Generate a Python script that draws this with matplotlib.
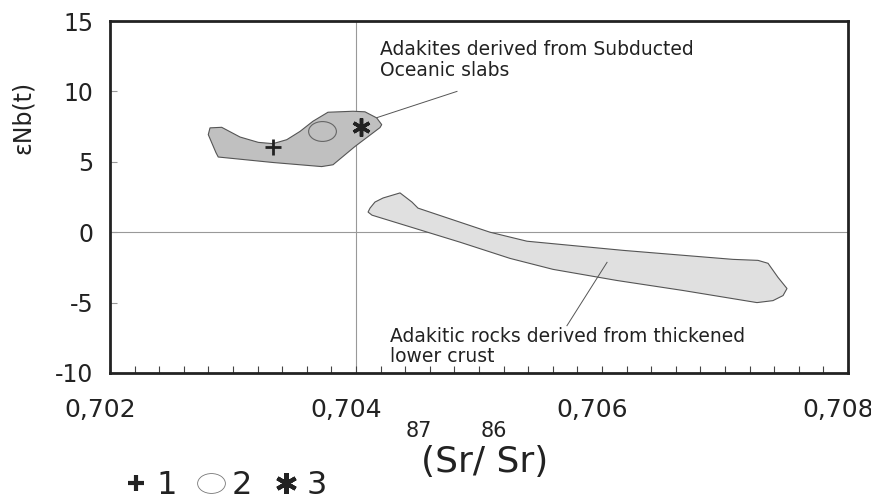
import matplotlib
matplotlib.use("Agg")
import matplotlib.pyplot as plt
import numpy as np
from matplotlib.lines import Line2D
from matplotlib.path import Path
from matplotlib.ticker import MultipleLocator
from matplotlib.transforms import ScaledTranslation

# field of adakites from subducted oceanic slabs (Sr ratio, eNd)
slab_x = [0.702813, 0.702908, 0.703057, 0.703206, 0.703325, 0.703437, 0.703545,
          0.703650, 0.703772, 0.703976, 0.704073, 0.704168, 0.704209, 0.704195,
          0.703992, 0.703813, 0.703721, 0.703325, 0.702880, 0.702862, 0.702799]
slab_y = [7.41, 7.45, 6.76, 6.38, 6.29, 6.57, 7.16,
          7.88, 8.52, 8.59, 8.55, 8.12, 7.64, 7.43,
          6.09, 4.79, 4.66, 4.95, 5.34, 5.64, 6.93]

# field of adakitic rocks from thickened lower crust
crust_x = [0.704114, 0.704154, 0.704220, 0.704358, 0.704455, 0.704504, 0.705089,
           0.705390, 0.706171, 0.706659, 0.707065, 0.707268, 0.707350, 0.707431,
           0.707504, 0.707472, 0.707390, 0.707260, 0.706659, 0.706122, 0.705602,
           0.705252, 0.704846, 0.704130, 0.704098]
crust_y = [1.71, 2.14, 2.43, 2.79, 2.14, 1.71, 0.0,
           -0.64, -1.29, -1.64, -1.93, -2.0, -2.21, -3.21,
           -4.0, -4.5, -4.86, -5.0, -4.14, -3.43, -2.64,
           -1.86, -0.71, 1.21, 1.43]

# samples 1, 2, 3
sample_x = [0.703325, 0.703724, 0.704041]
sample_y = [6.07, 7.21, 7.5]
sample_names = ["1", "2", "3"]

xticks = [0.702, 0.704, 0.706, 0.708]
xtick_labels = ["0,702", "0,704", "0,706", "0,708"]
yticks = [-10, -5, 0, 5, 10, 15]

slab_label = "Adakites derived from Subducted\nOceanic slabs"
crust_label = "Adakitic rocks derived from thickened\nlower crust"
slab_pointer = ([0.704171, 0.704821], [8.14, 10.0])
crust_pointer = ([0.705715, 0.706041], [-6.64, -2.14])


def main():
    plt.rcParams['font.family'] = ['DejaVu Sans']
    plt.rcParams['axes.unicode_minus'] = False

    fig = plt.figure(figsize=(8.71, 5.04), dpi=100)
    ax = fig.add_axes([110 / 871, 131 / 504, 738 / 871, 352 / 504])

    ax.axhline(0, color='#999999', lw=0.8, zorder=1)
    ax.axvline(0.704, color='#999999', lw=0.8, zorder=1)

    ax.fill(slab_x, slab_y, facecolor='#c0c0c0', edgecolor='#555555', lw=0.8, zorder=2)
    ax.fill(crust_x, crust_y, facecolor='#e0e0e0', edgecolor='#555555', lw=0.8, zorder=2)

    # squashed circle for sample 2
    circ = Path.unit_circle()
    ellipse = Path(circ.vertices * [1.4, 1.0], circ.codes)

    ax.plot(sample_x[0], sample_y[0], marker='+', ms=12, mew=2, color='#222222',
            ls='none', zorder=3)
    ax.plot(sample_x[1], sample_y[1], marker=ellipse, ms=20, mew=0.8, mfc='none',
            mec='#666666', ls='none', zorder=3)
    ax.plot(sample_x[2], sample_y[2], marker=(6, 2, 0), ms=13, mew=2.5, color='#222222',
            ls='none', zorder=3)

    ax.plot(*slab_pointer, color='#555555', lw=0.7)
    ax.plot(*crust_pointer, color='#555555', lw=0.7)
    ax.text(0.704195, 13.65, slab_label, fontsize=13.5, va='top', ha='left',
            color='#222222', linespacing=1.1)
    ax.text(0.704276, -6.7, crust_label, fontsize=13.5, va='top', ha='left',
            color='#222222', linespacing=1.1)

    ax.set_xlim(0.702, 0.708)
    ax.set_ylim(-10, 15)
    ax.set_xticks(xticks)
    ax.set_xticklabels(xtick_labels)
    ax.xaxis.set_minor_locator(MultipleLocator(0.0002))
    ax.set_yticks(yticks)
    ax.tick_params(axis='x', which='both', direction='in', length=5, width=0.8,
                   color='#444444', labelsize=18, pad=18, labelcolor='#222222')
    ax.tick_params(axis='y', direction='in', length=5, width=0.8, color='#999999',
                   labelsize=17, pad=12, labelcolor='#222222')
    for lab in ax.get_xticklabels():
        lab.set_transform(lab.get_transform() + ScaledTranslation(-0.1, 0, fig.dpi_scale_trans))
    for side in ['left', 'right', 'top', 'bottom']:
        ax.spines[side].set_linewidth(2)
        ax.spines[side].set_color('#222222')

    ax.set_ylabel("εNb(t)", fontsize=17, va='center', color='#222222')
    ax.yaxis.set_label_coords(-0.118, 0.725)

    # x axis title with the isotope numbers on top
    fig.text(485 / 871, 1 - 472 / 504, "(Sr/ Sr)", fontsize=26, ha='center',
             va='baseline', color='#222222')
    fig.text(419 / 871, 1 - 437 / 504, "87", fontsize=15, ha='center', va='baseline',
             color='#222222')
    fig.text(494 / 871, 1 - 437 / 504, "86", fontsize=15, ha='center', va='baseline',
             color='#222222')

    handles = [
        Line2D([], [], marker='+', ms=12, mew=3, color='#222222', ls='none'),
        Line2D([], [], marker=ellipse, ms=20, mew=0.6, mfc='none', mec='#777777', ls='none'),
        Line2D([], [], marker=(6, 2, 0), ms=15, mew=3, color='#222222', ls='none'),
    ]
    fig.legend(handles, sample_names, loc='center left',
               bbox_to_anchor=(120 / 871, 1 - 486 / 504), ncol=3, frameon=False,
               fontsize=23, handlelength=1.0, handletextpad=0.15, columnspacing=0.55,
               borderpad=0, borderaxespad=0, labelcolor='#222222')

    fig.savefig("out.png", dpi=100)


if __name__ == '__main__':
    main()
